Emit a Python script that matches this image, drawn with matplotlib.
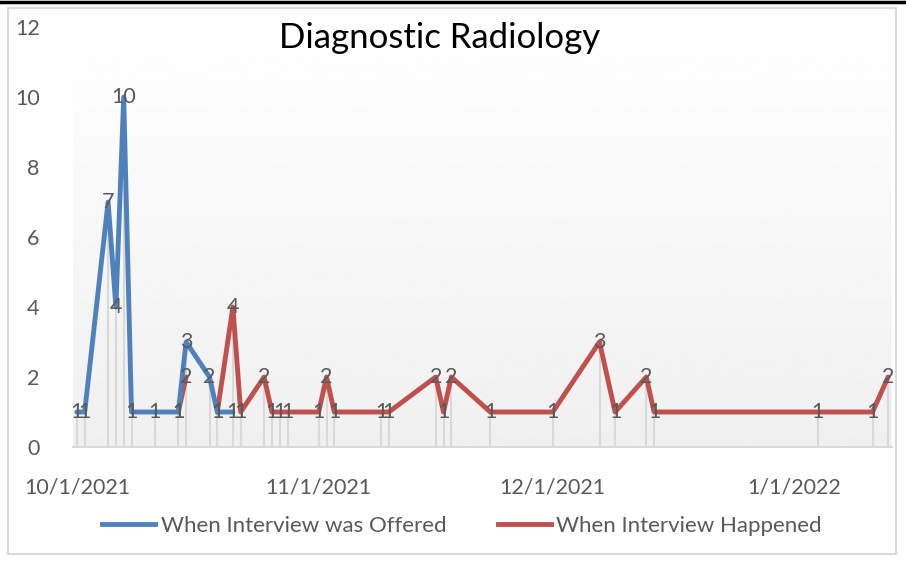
import numpy as np
import pandas as pd
import matplotlib
matplotlib.use("Agg")
import matplotlib.pyplot as plt
from matplotlib.patches import Rectangle
from matplotlib.lines import Line2D

plt.rcParams['font.family'] = ['Lato', 'DejaVu Sans']

# interview dates and counts (None = no value for that series)
dates = ["2021-10-01", "2021-10-02", "2021-10-05", "2021-10-06", "2021-10-07",
         "2021-10-08", "2021-10-11", "2021-10-14", "2021-10-15", "2021-10-18",
         "2021-10-19", "2021-10-21", "2021-10-22", "2021-10-25", "2021-10-26",
         "2021-10-27", "2021-10-28", "2021-11-01", "2021-11-02", "2021-11-03",
         "2021-11-09", "2021-11-10", "2021-11-16", "2021-11-17", "2021-11-18",
         "2021-11-23", "2021-12-01", "2021-12-07", "2021-12-09", "2021-12-13",
         "2021-12-14", "2022-01-04", "2022-01-11", "2022-01-13"]
offered = [1, 1, 7, 4, 10, 1, 1, 1, 3, 2, 1, 1] + [None] * 22
happened = [None] * 7 + [1, 2, None, 1, 4, 1, 2, 1, 1, 1, 1, 2, 1, 1, 1, 2, 1, 2,
                         1, 1, 3, 1, 2, 1, 1, 1, 2]
tick_dates = ["2021-10-01", "2021-11-01", "2021-12-01", "2022-01-01"]
tick_labels = ["10/1/2021", "11/1/2021", "12/1/2021", "1/1/2022"]

x = pd.to_datetime(dates)
off = np.array([np.nan if v is None else v for v in offered], dtype=float)
hap = np.array([np.nan if v is None else v for v in happened], dtype=float)

blue = "#4F81BD"
red = "#C0504D"
grey_txt = "#595959"
fs = 15.5

fig = plt.figure(figsize=(9.06, 5.61), dpi=100)
ax = fig.add_axes([73/906, 1-447/561, (892-73)/906, (447-27)/561])

# plot area gradient
grad = np.linspace(1.0, 0.94, 256).reshape(-1, 1)
ax.imshow(grad, cmap="gray", vmin=0, vmax=1, aspect="auto",
          extent=[0, 1, 0, 1], transform=ax.transAxes, zorder=0)

# drop lines from highest point of each date
top = np.fmax(off, hap)
ax.vlines(x, 0, top, color="#d9d9d9", lw=1.5, zorder=1)

ax.plot(x, off, color=blue, lw=3.5, solid_capstyle="round", zorder=3)
ax.plot(x, hap, color=red, lw=3.5, solid_capstyle="round", zorder=2)

for xi, v in zip(x, off):
    if not np.isnan(v):
        ax.text(xi, v, f"{int(v)}", ha="center", va="center",
                color=grey_txt, fontsize=fs, zorder=4)
for xi, v in zip(x, hap):
    if not np.isnan(v):
        ax.text(xi, v, f"{int(v)}", ha="center", va="center",
                color=grey_txt, fontsize=fs, zorder=4)

ax.set_xlim(x[0] - pd.Timedelta(hours=12), x[-1] + pd.Timedelta(hours=12))
ax.set_ylim(0, 12)
ax.set_yticks(range(0, 13, 2))
ax.set_xticks(pd.to_datetime(tick_dates))
ax.set_xticklabels(tick_labels)
ax.tick_params(axis="both", length=0, colors=grey_txt, labelsize=fs)
ax.tick_params(axis="y", pad=24)
ax.tick_params(axis="x", pad=22)
for s in ["top", "right", "left"]:
    ax.spines[s].set_visible(False)
ax.spines["bottom"].set_color("#d9d9d9")
ax.spines["bottom"].set_linewidth(1.5)

fig.text(440/906, 1-38/561, "Diagnostic Radiology", ha="center", va="center",
         fontsize=25, color="black")

handles = [Line2D([], [], color=blue, lw=3.5),
           Line2D([], [], color=red, lw=3.5)]
fig.legend(handles, ["When Interview was Offered", "When Interview Happened"],
           loc="center", bbox_to_anchor=(462/906, 1-526/561), ncol=2,
           frameon=False, fontsize=16, labelcolor=grey_txt,
           handlelength=2.4, handletextpad=0.25, columnspacing=2.3)

# chart border and top rule
fig.add_artist(Rectangle((8/906, 1-554/561), (896-8)/906, (554-8)/561,
                         transform=fig.transFigure, fill=False,
                         edgecolor="#d9d9d9", lw=1.5))
fig.add_artist(Line2D([0, 1], [1-1.5/561, 1-1.5/561], transform=fig.transFigure,
                      color="black", lw=2.5))

fig.savefig("out.png", dpi=100)
